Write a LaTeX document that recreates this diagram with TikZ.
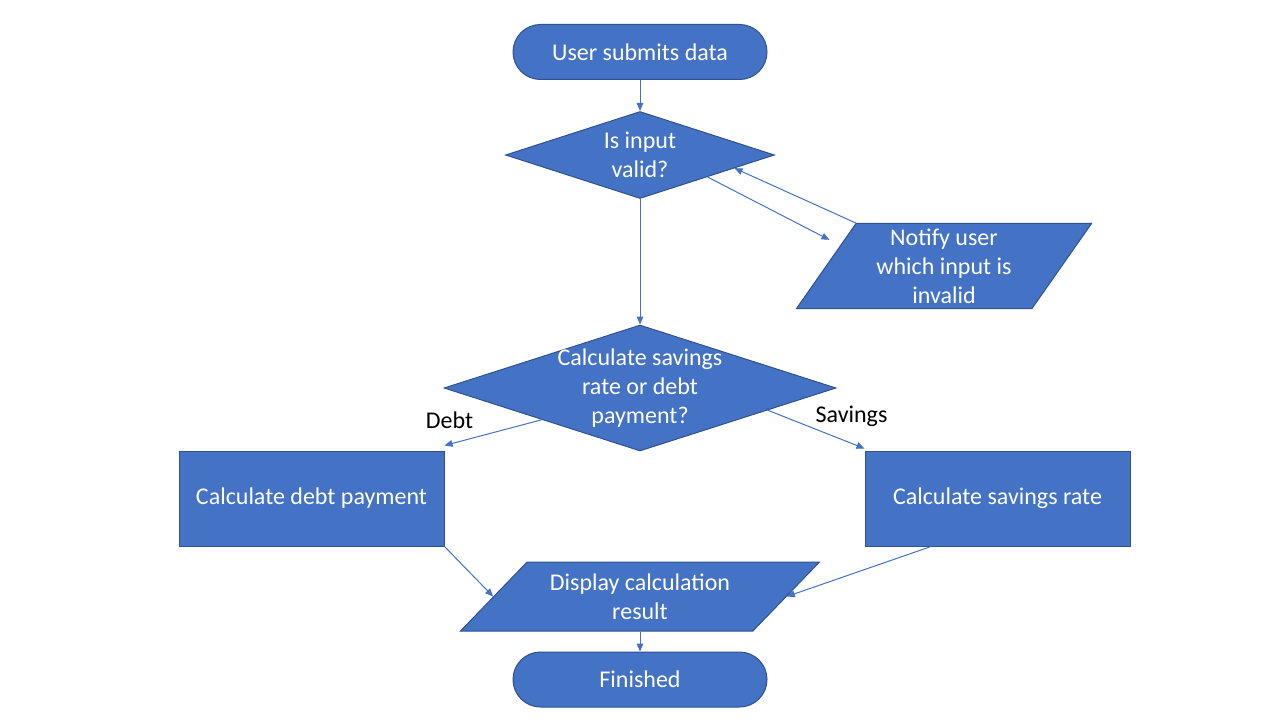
\documentclass[tikz,border=0pt]{standalone}
\usepackage{fontspec}
\setmainfont{Carlito}
\usetikzlibrary{arrows.meta, positioning, shapes.geometric, calc}
\definecolor{ppblue}{HTML}{4472C4}
\definecolor{ppedge}{HTML}{2F528F}
\newcommand{\flowfont}{\fontsize{18}{21.75}\selectfont}

\begin{document}
\begin{tikzpicture}[x=0.75pt, y=-0.75pt,
    base/.style={draw=ppedge, fill=ppblue, line width=0.75pt, text=white, font=\flowfont, align=center},
    term/.style={base, rectangle, rounded corners=20.6pt, minimum width=190.5pt, minimum height=41.25pt},
    decision/.style={base, diamond, inner sep=1pt},
    io/.style={base, trapezium, trapezium stretches body=true, inner xsep=1pt, inner ysep=0pt, text depth=0pt},
    proc/.style={base, rectangle, minimum width=198.75pt, minimum height=71.25pt},
    txt/.style={text=white, font=\flowfont, align=center, inner sep=0pt},
    conn/.style={draw=ppblue, line width=0.75pt, -{Triangle[length=6pt, width=5pt]}},
    tag/.style={font=\flowfont, text=black}]

    \fill[white] (0,0) rectangle (1280,720);
    \useasboundingbox (0,0) rectangle (1280,720);

    % Start
    \node[term] (start) at (640,52) {User submits data};

    % Validation
    \node[decision, minimum width=201.75pt, minimum height=65.25pt,
        label={[txt]center:{Is input\\valid?}}] (valid) at (640,155) {};
    \node[io, trapezium left angle=55, trapezium right angle=125,
        minimum width=221.25pt, text height=63.75pt,
        label={[txt]center:{Notify user\\which input is\\invalid}}] (notify) at (944,266) {};

    % Choice
    \node[decision, minimum width=294pt, minimum height=94.5pt,
        label={[txt]center:{Calculate savings\\rate or debt\\payment?}}] (choice) at (640,388) {};
    \node[proc] (debt) at (311.5,498.5) {Calculate debt payment};
    \node[proc] (savings) at (997.5,498.5) {Calculate savings rate};

    % Output
    \node[io, trapezium left angle=46, trapezium right angle=134,
        minimum width=269.25pt, text height=51.75pt,
        label={[txt]center:{Display calculation\\result}}] (display) at (640,596.5) {};
    \node[term] (finish) at (640,679.5) {Finished};

    % Connectors
    \draw[conn] (start) -- (valid);
    \draw[conn, shorten >=9pt] (valid.south east) -- ($(notify.top left corner)!0.26!(notify.bottom left corner)$);
    \draw[conn] (notify.top left corner) -- ($(valid.east)!0.3!(valid.south)$);
    \draw[conn] (valid) -- (choice);
    \draw[conn] (choice.south west) -- ([yshift=3.75pt]debt.north east)
        node[tag, pos=1, above=9pt, xshift=3.75pt] {Debt};
    \draw[conn] ($(choice.east)!0.35!(choice.south)$) -- ([yshift=1.5pt]savings.north west)
        node[tag, pos=1, above=13pt, xshift=-9.75pt] {Savings};
    \draw[conn] (debt.south east) -- (display.left side);
    \draw[conn] ($(savings.south west)!0.25!(savings.south east)$) -- (display.right side);
    \draw[conn] (display) -- (finish);
\end{tikzpicture}
\end{document}
